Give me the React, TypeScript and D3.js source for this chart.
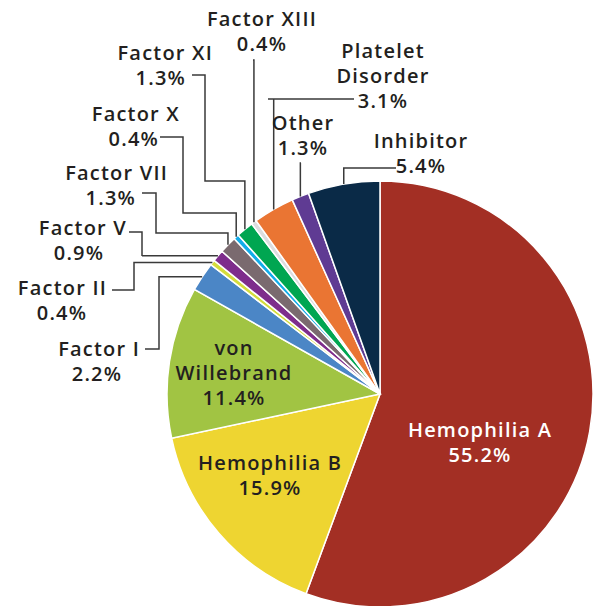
import React from 'react'
import * as d3 from 'd3'

const categories = [
  'Hemophilia A', 'Hemophilia B', 'von Willebrand', 'Factor I', 'Factor II',
  'Factor V', 'Factor VII', 'Factor X', 'Factor XI', 'Factor XIII',
  'Platelet Disorder', 'Other', 'Inhibitor'
]
const values = [55.2, 15.9, 11.4, 2.2, 0.4, 0.9, 1.3, 0.4, 1.3, 0.4, 3.1, 1.3, 5.4]
const colors = [
  '#a32f24', '#eed531', '#a1c443', '#4b86c6', '#d4dc3c', '#7e2d8c', '#7a6a6f',
  '#13acea', '#00a651', '#dcdddf', '#ea7533', '#5f3b93', '#0a2a47'
]
// how each label is broken into lines
const labelLines = [
  ['Hemophilia A'], ['Hemophilia B'], ['von', 'Willebrand'], ['Factor I'], ['Factor II'],
  ['Factor V'], ['Factor VII'], ['Factor X'], ['Factor XI'], ['Factor XIII'],
  ['Platelet', 'Disorder'], ['Other'], ['Inhibitor']
]

const W = 598
const H = 606
const cx = 380
const cy = 394
const R = 213
const LH = 25

// label layout: x, y of first baseline, anchor, and elbow points of leader (last point goes to slice)
type Lay = { x: number, y: number, anchor: string, pctAnchor?: string, pctX?: number, lead?: number[][], last?: 'v' | 'h', fill?: string }
const layout: Lay[] = [
  { x: 480, y: 437, anchor: 'middle', fill: '#fff' },
  { x: 270, y: 470, anchor: 'middle' },
  { x: 234, y: 355, anchor: 'middle' },
  { x: 140, y: 356, anchor: 'end', pctAnchor: 'middle', pctX: 97, lead: [[145, 349], [159, 349], [159, 286]], last: 'h' },
  { x: 107, y: 295, anchor: 'end', pctAnchor: 'middle', pctX: 62, lead: [[112, 290], [134, 290], [134, 265]], last: 'h' },
  { x: 127, y: 235, anchor: 'end', pctAnchor: 'middle', pctX: 79, lead: [[129, 232], [142, 232], [142, 256]], last: 'h' },
  { x: 168, y: 180, anchor: 'end', pctAnchor: 'end', pctX: 136, lead: [[142, 193], [156, 193], [156, 233]], last: 'v' },
  { x: 180, y: 121, anchor: 'end', pctAnchor: 'end', pctX: 159, lead: [[160, 137], [183, 137], [183, 213]], last: 'v' },
  { x: 213, y: 60, anchor: 'end', pctAnchor: 'end', pctX: 186, lead: [[192, 75], [205, 75], [205, 181]], last: 'v' },
  { x: 262, y: 26, anchor: 'middle', lead: [[253, 60]], last: 'v' },
  { x: 383, y: 58, anchor: 'middle', pctX: 383, lead: [[354, 99], [268, 99]], last: 'v' },
  { x: 303, y: 130, anchor: 'middle', lead: [[301, 163]], last: 'v' },
  { x: 421, y: 148, anchor: 'middle', lead: [[396, 168], [345, 168]], last: 'v' }
]

const App = () => {
  const pie = d3.pie<number>().sort(null).value(d => d)
  const arcs = pie(values)
  const arc = d3.arc<d3.PieArcDatum<number>>().innerRadius(0).outerRadius(R)
  const fmt = (v: number) => v.toFixed(1) + '%'

  return (
    <svg width={W} height={H} style={{ position: 'absolute', left: 0, top: 0 }}
      fontFamily="'Open Sans', sans-serif" fontSize={20} fontWeight={600} letterSpacing={1.2}>
      <g transform={`translate(${cx},${cy})`}>
        {arcs.map((a, i) => (
          <path key={i} d={arc(a) || ''} fill={colors[i]} stroke='#fff' strokeWidth={1.5} />
        ))}
      </g>
      {arcs.map((a, i) => {
        const L = layout[i]
        if (!L.lead) return null
        const mid = (a.startAngle + a.endAngle) / 2
        const px = cx + R * Math.sin(mid)
        const py = cy - R * Math.cos(mid)
        const pts = L.lead.slice()
        const prev = pts[pts.length - 1]
        if (L.last === 'v') {
          if (prev[0] !== px) pts.push([px, prev[1]])
        } else {
          pts.push([prev[0], py])
        }
        pts.push([px, py])
        return <path key={'l' + i} d={d3.line()(pts as [number, number][]) || ''}
          fill='none' stroke='#3a3a3a' strokeWidth={1.5} />
      })}
      {categories.map((c, i) => {
        const L = layout[i]
        const lines = labelLines[i]
        const fill = L.fill || '#231f20'
        return (
          <g key={'t' + i} fill={fill}>
            {lines.map((t, j) => (
              <text key={j} x={L.x} y={L.y + j * LH} textAnchor={L.anchor}>{t}</text>
            ))}
            <text x={L.pctX ?? L.x} y={L.y + lines.length * LH}
              textAnchor={L.pctAnchor || L.anchor}>{fmt(values[i])}</text>
          </g>
        )
      })}
    </svg>
  )
}

export default App
